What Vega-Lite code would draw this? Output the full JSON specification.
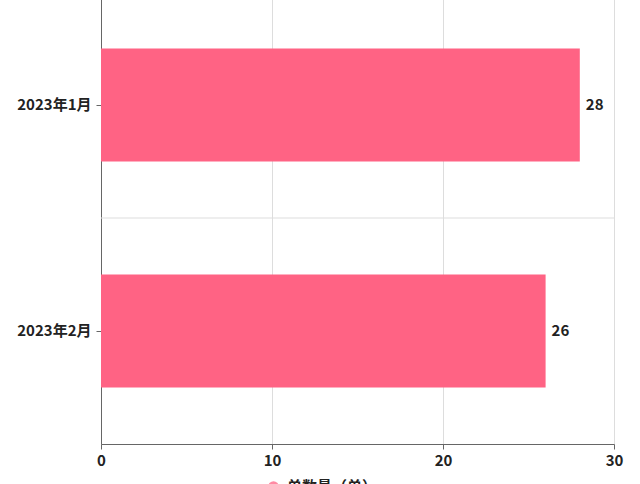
{
  "$schema": "https://vega.github.io/schema/vega-lite/v6.json",
  "width": 513,
  "height": 452,
  "autosize": "none",
  "padding": {"left": 101, "top": -8, "right": 26, "bottom": 40},
  "background": "white",
  "config": {
    "font": "Noto Sans CJK SC",
    "view": {"stroke": null}
  },
  "data": {
    "values": [
      {"month": "2023年1月", "value": 28, "series": "单数量（单）"},
      {"month": "2023年2月", "value": 26, "series": "单数量（单）"}
    ]
  },
  "encoding": {
    "y": {
      "field": "month",
      "type": "nominal",
      "sort": ["2023年1月", "2023年2月"],
      "scale": {"paddingInner": 0, "paddingOuter": 0},
      "axis": {
        "title": null,
        "labelFontSize": 15,
        "labelFontWeight": "bold",
        "labelColor": "#222",
        "labelPadding": 5,
        "tickSize": 5,
        "tickColor": "#666",
        "domainColor": "#666",
        "grid": false
      }
    },
    "x": {
      "field": "value",
      "type": "quantitative",
      "scale": {"domain": [0, 30]},
      "axis": {
        "title": null,
        "values": [0, 10, 20, 30],
        "labelFlush": false,
        "labelFontSize": 15,
        "labelFontWeight": "bold",
        "labelColor": "#222",
        "labelPadding": 4,
        "tickSize": 5,
        "tickColor": "#666",
        "domainColor": "#666",
        "gridColor": "#ddd"
      }
    }
  },
  "layer": [
    {
      "transform": [{"filter": "datum.month === '2023年2月'"}],
      "mark": {"type": "rule", "color": "#ddd", "strokeWidth": 1},
      "encoding": {
        "y": {"field": "month", "type": "nominal", "sort": ["2023年1月", "2023年2月"], "bandPosition": 0},
        "x": null
      }
    },
    {
      "mark": {"type": "bar", "height": {"band": 0.5}},
      "encoding": {
        "color": {
          "field": "series",
          "type": "nominal",
          "scale": {"range": ["#FF6384"]},
          "legend": {
            "title": null,
            "orient": "none",
            "legendX": 165,
            "legendY": 487,
            "symbolType": "circle",
            "symbolSize": 110,
            "symbolOpacity": 0.75,
            "labelFontSize": 15,
            "labelFontWeight": "bold",
            "labelColor": "#222",
            "labelOffset": 6
          }
        }
      }
    },
    {
      "mark": {"type": "text", "align": "left", "dx": 6, "fontSize": 15, "fontWeight": "bold", "color": "#222"},
      "encoding": {"text": {"field": "value", "type": "quantitative"}}
    }
  ]
}
